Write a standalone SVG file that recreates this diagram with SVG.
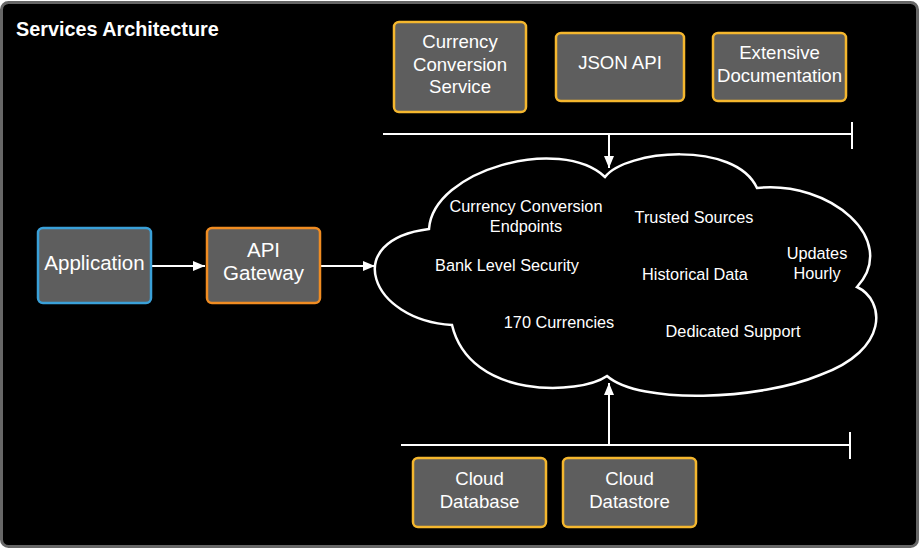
<svg xmlns="http://www.w3.org/2000/svg" width="922" height="550" viewBox="0 0 922 550">
<defs>
<marker id="ah" viewBox="0 0 12 10" refX="12" refY="5" markerWidth="12" markerHeight="10" markerUnits="userSpaceOnUse" orient="auto">
<path d="M0,0 L12,5 L0,10 z" fill="#ffffff"/>
</marker>
</defs>
<style>
text{font-family:"Liberation Sans",Arial,sans-serif;fill:#ffffff;text-anchor:middle}
.box{fill:#5e5e5e;stroke-width:2.5}
.gold{stroke:#f5b72e}
.orange{stroke:#f08c22}
.blue{stroke:#3aa0d8}
.t18{font-size:18.6px}
.t20{font-size:20.5px}
.t15{font-size:16.3px}
.line{stroke:#ffffff;stroke-width:2;fill:none}
</style>
<rect x="0" y="0" width="922" height="550" fill="#ffffff"/>
<rect x="1.5" y="2.5" width="916" height="544" rx="7" fill="#000000" stroke="#676767" stroke-width="3"/>
<text x="16" y="36" style="text-anchor:start;font-weight:bold;font-size:19.8px">Services Architecture</text>

<g id="connectors">
<path class="line" d="M383,134 H852 M852,122 V149"/>
<path class="line" d="M609,134 V168" marker-end="url(#ah)"/>
<path class="line" d="M401,445 H850 M850,432 V459"/>
<path class="line" d="M609,445 V383" marker-end="url(#ah)"/>
<path class="line" d="M152,266 H205" marker-end="url(#ah)"/>
<path class="line" d="M321,266 H375" marker-end="url(#ah)"/>
</g>

<g id="cloud">
<path d="M605,177 C625,150 735,140 757,188 C830,180 900,240 857,287 C885,300 890,350 820,375 C760,400 640,405 607,376 C580,395 470,400 452,325 C370,320 340,240 429,229 C433,170 560,135 605,177 Z" fill="#000000" stroke="#ffffff" stroke-width="2.5" stroke-linejoin="miter"/>
<text class="t15" x="526" y="212">Currency Conversion</text>
<text class="t15" x="526" y="232">Endpoints</text>
<text class="t15" x="694" y="223">Trusted Sources</text>
<text class="t15" x="507" y="271">Bank Level Security</text>
<text class="t15" x="695" y="280">Historical Data</text>
<text class="t15" x="817" y="259">Updates</text>
<text class="t15" x="817" y="279">Hourly</text>
<text class="t15" x="559" y="328">170 Currencies</text>
<text class="t15" x="733" y="337">Dedicated Support</text>
</g>

<g id="application">
<rect class="box blue" x="38" y="228" width="113" height="75" rx="5"/>
<text class="t20" x="94.5" y="270">Application</text>
</g>
<g id="api-gateway">
<rect class="box orange" x="207" y="228" width="113" height="75" rx="5"/>
<text class="t20" x="263.5" y="257">API</text>
<text class="t20" x="263.5" y="280">Gateway</text>
</g>
<g id="currency-conversion-service">
<rect class="box gold" x="394" y="22" width="132" height="90" rx="5"/>
<text class="t18" x="460" y="48">Currency</text>
<text class="t18" x="460" y="71">Conversion</text>
<text class="t18" x="460" y="93">Service</text>
</g>
<g id="json-api">
<rect class="box gold" x="556" y="33" width="128" height="68" rx="5"/>
<text class="t18" x="620" y="69">JSON API</text>
</g>
<g id="extensive-documentation">
<rect class="box gold" x="713" y="33" width="133" height="68" rx="5"/>
<text class="t18" x="779.5" y="59">Extensive</text>
<text class="t18" x="779.5" y="82">Documentation</text>
</g>
<g id="cloud-database">
<rect class="box gold" x="413" y="458" width="133" height="69" rx="5"/>
<text class="t18" x="479.5" y="485">Cloud</text>
<text class="t18" x="479.5" y="508">Database</text>
</g>
<g id="cloud-datastore">
<rect class="box gold" x="563" y="458" width="133" height="69" rx="5"/>
<text class="t18" x="629.5" y="485">Cloud</text>
<text class="t18" x="629.5" y="508">Datastore</text>
</g>
</svg>
